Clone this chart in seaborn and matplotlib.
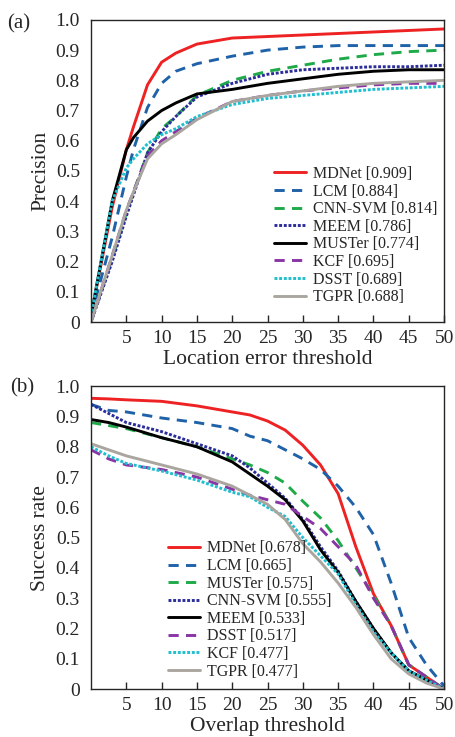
import numpy as np
import pandas as pd
import matplotlib
matplotlib.use('Agg')
import matplotlib.pyplot as plt
import seaborn as sns

sns.set_style('ticks')
plt.rcParams['font.family'] = ['Liberation Serif', 'DejaVu Serif']

# panel (a) - precision
x_a = [0, 3, 5, 6, 8, 10, 12, 15, 20, 25, 30, 35, 40, 45, 50]
labels_a = ['MDNet [0.909]', 'LCM [0.884]', 'CNN-SVM [0.814]', 'MEEM [0.786]',
            'MUSTer [0.774]', 'KCF [0.695]', 'DSST [0.689]', 'TGPR [0.688]']
mdnet_a = [0.02, 0.38, 0.57, 0.645, 0.785, 0.86, 0.89, 0.92, 0.94, 0.945, 0.95, 0.955, 0.96, 0.965, 0.97]
lcm_a = [0.02, 0.28, 0.48, 0.57, 0.71, 0.79, 0.83, 0.855, 0.88, 0.90, 0.91, 0.915, 0.915, 0.915, 0.915]
cnn_a = [0.0, 0.21, 0.36, 0.43, 0.56, 0.64, 0.68, 0.75, 0.80, 0.83, 0.85, 0.87, 0.885, 0.895, 0.90]
meem_a = [0.0, 0.20, 0.35, 0.42, 0.56, 0.63, 0.68, 0.745, 0.79, 0.82, 0.835, 0.84, 0.845, 0.845, 0.85]
muster_a = [0.02, 0.40, 0.57, 0.61, 0.665, 0.70, 0.725, 0.755, 0.77, 0.79, 0.805, 0.82, 0.83, 0.835, 0.835]
kcf_a = [0.0, 0.22, 0.37, 0.43, 0.55, 0.60, 0.63, 0.675, 0.73, 0.75, 0.765, 0.775, 0.785, 0.79, 0.79]
dsst_a = [0.02, 0.40, 0.51, 0.54, 0.59, 0.62, 0.64, 0.68, 0.72, 0.74, 0.75, 0.76, 0.77, 0.775, 0.78]
tgpr_a = [0.0, 0.22, 0.37, 0.43, 0.54, 0.59, 0.62, 0.67, 0.73, 0.75, 0.765, 0.78, 0.79, 0.795, 0.80]

# panel (b) - success rate
x_b = [0, 2.5, 5, 10, 15, 20, 22.5, 25, 27.5, 30, 32.5, 35, 37.5, 40, 42.5, 45, 47.5, 50]
labels_b = ['MDNet [0.678]', 'LCM [0.665]', 'MUSTer [0.575]', 'CNN-SVM [0.555]',
            'MEEM [0.533]', 'DSST [0.517]', 'KCF [0.477]', 'TGPR [0.477]']
mdnet_b = [0.96, 0.958, 0.955, 0.95, 0.935, 0.915, 0.905, 0.885, 0.855, 0.805, 0.74, 0.645, 0.47, 0.315, 0.21, 0.08, 0.04, 0.0]
lcm_b = [0.94, 0.92, 0.915, 0.895, 0.88, 0.86, 0.835, 0.82, 0.79, 0.76, 0.725, 0.67, 0.60, 0.51, 0.35, 0.17, 0.08, 0.01]
muster_b = [0.88, 0.87, 0.86, 0.83, 0.80, 0.76, 0.74, 0.715, 0.68, 0.62, 0.565, 0.49, 0.40, 0.31, 0.21, 0.08, 0.04, 0.0]
cnn_b = [0.94, 0.91, 0.88, 0.85, 0.81, 0.77, 0.73, 0.68, 0.63, 0.56, 0.47, 0.39, 0.29, 0.20, 0.12, 0.06, 0.03, 0.0]
meem_b = [0.89, 0.88, 0.865, 0.83, 0.80, 0.75, 0.71, 0.67, 0.625, 0.555, 0.46, 0.385, 0.29, 0.20, 0.12, 0.06, 0.03, 0.0]
dsst_b = [0.79, 0.76, 0.74, 0.725, 0.70, 0.66, 0.64, 0.625, 0.61, 0.57, 0.53, 0.47, 0.41, 0.30, 0.21, 0.08, 0.04, 0.0]
kcf_b = [0.80, 0.77, 0.745, 0.72, 0.69, 0.65, 0.635, 0.60, 0.57, 0.50, 0.44, 0.38, 0.28, 0.19, 0.12, 0.06, 0.03, 0.0]
tgpr_b = [0.81, 0.79, 0.77, 0.74, 0.71, 0.67, 0.64, 0.61, 0.56, 0.48, 0.42, 0.35, 0.27, 0.18, 0.10, 0.05, 0.02, 0.0]

colors = ['#ee2222', '#1f62a8', '#1faa4a', '#2b2d9a', '#000000', '#8a35a5', '#1fbfcf', '#aaa69f']
styles = ['-', (0, (3.5, 2.5)), (0, (3.5, 2.5)), (0, (1, 0.6)), '-', (0, (3.5, 2.5)), (0, (1, 0.6)), '-']

fig = plt.figure(figsize=(4.55, 7.37), dpi=100)
ax1 = fig.add_axes([0.2, 0.563, 0.776, 0.41])
ax2 = fig.add_axes([0.2, 0.065, 0.776, 0.411])


def draw(ax, x, series, labels, ylabel, xlabel, legend_anchor):
    for i, (ys, lab) in enumerate(zip(series, labels)):
        sns.lineplot(x=x, y=ys, ax=ax, color=colors[i], linestyle=styles[i],
                     linewidth=2.1, label=lab)
    ax.set_xlim(0, 50)
    ax.set_ylim(0, 1.0)
    ax.set_xticks([5, 10, 15, 20, 25, 30, 35, 40, 45, 50])
    ax.set_yticks(np.arange(0, 1.01, 0.1))
    ax.set_yticklabels(['0'] + ['%.1f' % v for v in np.arange(0.1, 1.01, 0.1)])
    ax.tick_params(axis='x', direction='in', length=5, width=1, labelsize=14, pad=6)
    ax.tick_params(axis='y', length=0, labelsize=14, pad=8)
    for s in ax.spines.values():
        s.set_visible(True)
        s.set_linewidth(1.0)
    ax.set_xlabel(xlabel, fontsize=15.5, labelpad=2)
    ax.set_ylabel(ylabel, fontsize=15.5, labelpad=4)
    ax.legend(loc='lower left', bbox_to_anchor=legend_anchor, frameon=False,
              fontsize=11.5, handlelength=2.0, handletextpad=0.45,
              labelspacing=0.1, borderaxespad=0)


draw(ax1, x_a, [mdnet_a, lcm_a, cnn_a, meem_a, muster_a, kcf_a, dsst_a, tgpr_a],
     labels_a, 'Precision', 'Location error threshold', (0.5, 0.035))
draw(ax2, x_b, [mdnet_b, lcm_b, muster_b, cnn_b, meem_b, dsst_b, kcf_b, tgpr_b],
     labels_b, 'Success rate', 'Overlap threshold', (0.2, 0.01))

fig.text(0.015, 0.967, '(a)', fontsize=15, va='center')
fig.text(0.022, 0.474, '(b)', fontsize=15, va='center')

fig.savefig('out.png', dpi=100)
